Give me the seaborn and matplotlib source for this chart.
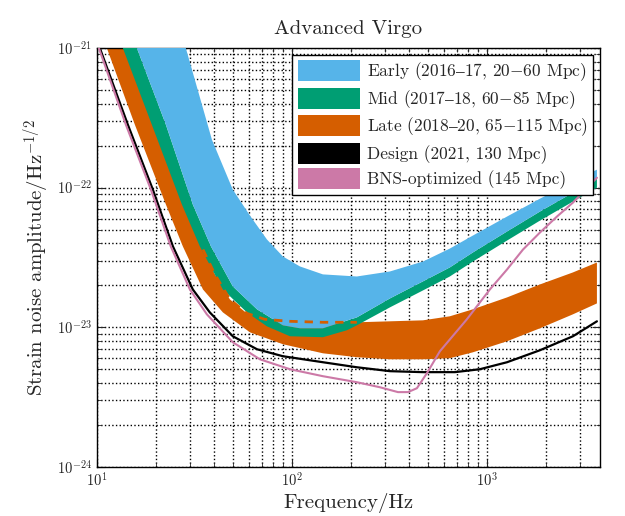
import numpy as np
import matplotlib
matplotlib.use("Agg")
import matplotlib.pyplot as plt
from matplotlib.patches import Patch
import seaborn as sns

# ---------------- data (log10 values) ----------------
# Design (2021, 130 Mpc)
design_logf = [1.015, 1.159, 1.287, 1.390, 1.492, 1.579, 1.697, 1.821, 1.954, 2.159, 2.333, 2.503, 2.672, 2.836, 2.964, 3.103, 3.272, 3.441, 3.564]
design_logh = [-21.0, -21.550, -22.014, -22.421, -22.729, -22.893, -23.064, -23.157, -23.207, -23.250, -23.286, -23.314, -23.321, -23.321, -23.300, -23.250, -23.164, -23.064, -22.957]

# BNS-optimized (145 Mpc)
bns_logf = [1.010, 1.149, 1.277, 1.379, 1.477, 1.564, 1.697, 1.836, 1.990, 2.159, 2.333, 2.451, 2.544, 2.595, 2.641, 2.692, 2.759, 2.897, 3.015, 3.103, 3.185, 3.272, 3.359, 3.441, 3.564]
bns_logh = [-21.0, -21.550, -22.014, -22.421, -22.729, -22.907, -23.107, -23.229, -23.300, -23.350, -23.393, -23.429, -23.464, -23.464, -23.436, -23.329, -23.171, -22.943, -22.729, -22.586, -22.443, -22.321, -22.207, -22.107, -21.929]

# Late (2018-20, 65-115 Mpc): lower edge (115 Mpc) and upper edge (65 Mpc)
late_lo_logf = [1.051, 1.195, 1.354, 1.441, 1.544, 1.646, 1.785, 1.954, 2.159, 2.333, 2.503, 2.672, 2.810, 2.928, 3.103, 3.272, 3.441, 3.564]
late_lo_logh = [-21.0, -21.550, -22.121, -22.421, -22.729, -22.893, -23.036, -23.121, -23.186, -23.214, -23.229, -23.229, -23.221, -23.179, -23.100, -23.007, -22.907, -22.829]
late_hi_logf = [1.144, 1.292, 1.446, 1.544, 1.605, 1.682, 1.769, 1.862, 1.990, 2.159, 2.333, 2.503, 2.672, 2.810, 2.928, 3.103, 3.272, 3.441, 3.564]
late_hi_logh = [-21.0, -21.550, -22.121, -22.443, -22.621, -22.800, -22.900, -22.943, -22.957, -22.964, -22.964, -22.957, -22.950, -22.921, -22.871, -22.786, -22.693, -22.607, -22.536]

# Mid (2017-18, 60-85 Mpc): lower edge (85 Mpc) and upper edge (60 Mpc)
mid_lo_logf = [1.133, 1.282, 1.436, 1.528, 1.646, 1.769, 1.872, 1.990, 2.159, 2.282, 2.333, 2.503, 2.672, 2.810, 2.928, 3.103, 3.272, 3.441, 3.564]
mid_lo_logh = [-21.0, -21.550, -22.121, -22.421, -22.729, -22.893, -22.993, -23.064, -23.071, -23.021, -22.986, -22.857, -22.736, -22.636, -22.529, -22.379, -22.236, -22.100, -22.000]
mid_hi_logf = [1.205, 1.354, 1.492, 1.585, 1.697, 1.821, 1.954, 2.041, 2.159, 2.333, 2.503, 2.672, 2.810, 2.928, 3.103, 3.272, 3.441, 3.564]
mid_hi_logh = [-21.0, -21.550, -22.121, -22.421, -22.707, -22.871, -22.986, -23.007, -23.007, -22.929, -22.793, -22.671, -22.571, -22.464, -22.314, -22.171, -22.036, -21.936]

# Early (2016-17, 20-60 Mpc): upper edge (20 Mpc); lower edge shared with Mid upper
early_hi_logf = [1.456, 1.590, 1.697, 1.785, 1.872, 1.954, 2.041, 2.159, 2.333, 2.503, 2.672, 2.810, 2.928, 3.103, 3.272, 3.441, 3.564]
early_hi_logh = [-21.0, -21.657, -22.014, -22.200, -22.371, -22.493, -22.564, -22.621, -22.636, -22.600, -22.529, -22.436, -22.343, -22.207, -22.079, -21.957, -21.871]

labels = ["Early (2016$\u2013$17, 20$-$60 Mpc)", "Mid (2017$\u2013$18, 60$-$85 Mpc)",
          "Late (2018$\u2013$20, 65$-$115 Mpc)", "Design (2021, 130 Mpc)",
          "BNS-optimized (145 Mpc)"]
colors = ["#56B4E9", "#009E73", "#D55E00", "#000000", "#CC79A7"]

xticks_major = [10, 100, 1000]
yticks_major = [1e-24, 1e-23, 1e-22, 1e-21]

# ---------------- style ----------------
sns.set_style("ticks")
plt.rcParams["font.family"] = ["cmr10", "DejaVu Serif"]
plt.rcParams["mathtext.fontset"] = "cm"
plt.rcParams["axes.formatter.use_mathtext"] = True
plt.rcParams["axes.unicode_minus"] = True

def p(a):
    return 10.0 ** np.asarray(a)

fig = plt.figure(figsize=(6.25, 5.16), dpi=100)
ax = fig.add_axes([0.155, 0.095, 0.805, 0.812])
ax.set_xscale("log")
ax.set_yscale("log")

def band(lo_f, lo_h, hi_f, hi_h, color, z):
    xs = np.concatenate([p(lo_f), p(hi_f)[::-1]])
    ys = np.concatenate([p(lo_h), p(hi_h)[::-1]])
    ax.fill(xs, ys, color=color, lw=0, zorder=z)

band(late_lo_logf, late_lo_logh, late_hi_logf, late_hi_logh, colors[2], 2)
band(mid_lo_logf, mid_lo_logh, mid_hi_logf, mid_hi_logh, colors[1], 3)
band(mid_hi_logf, mid_hi_logh, early_hi_logf, early_hi_logh, colors[0], 4)

# dashed Late upper edge shown over the Mid/Early bands
sns.lineplot(x=p(late_hi_logf[3:11]), y=p(late_hi_logh[3:11]), ax=ax,
             color=colors[2], lw=2.0, linestyle=(0, (3, 2.5)), zorder=5)
sns.lineplot(x=p(design_logf), y=p(design_logh), ax=ax, color=colors[3], lw=1.6, zorder=6)
sns.lineplot(x=p(bns_logf), y=p(bns_logh), ax=ax, color=colors[4], lw=1.5, zorder=6)

ax.set_xlim(10, 3800)
ax.set_ylim(1e-24, 1e-21)
ax.set_xticks(xticks_major)
ax.set_yticks(yticks_major)

ax.grid(True, which="major", linestyle=":", color="black", lw=1.0)
ax.grid(True, which="minor", linestyle=":", color="black", lw=1.0)
ax.set_axisbelow(True)
ax.tick_params(which="both", direction="in", top=True, right=True, labelsize=10.5)
ax.tick_params(which="major", length=6)
ax.tick_params(which="minor", length=3)
for s in ax.spines.values():
    s.set_color("black")
    s.set_linewidth(1.0)

ax.set_xlabel("Frequency/Hz", fontsize=15, labelpad=2)
ax.set_ylabel("Strain noise amplitude/Hz$^{-1/2}$", fontsize=15, labelpad=4)
ax.set_title("Advanced Virgo", fontsize=15, pad=10)

handles = [Patch(facecolor=c, edgecolor="none") for c in colors]
leg = ax.legend(handles, labels, loc="upper right", fontsize=12.5,
                frameon=True, fancybox=False, framealpha=1, edgecolor="black",
                handlelength=3.6, handleheight=1.5, handletextpad=0.4,
                labelspacing=0.25, borderpad=0.3, borderaxespad=0.4)
leg.get_frame().set_linewidth(1.0)
leg.set_zorder(10)

fig.savefig("out.png", dpi=100)
